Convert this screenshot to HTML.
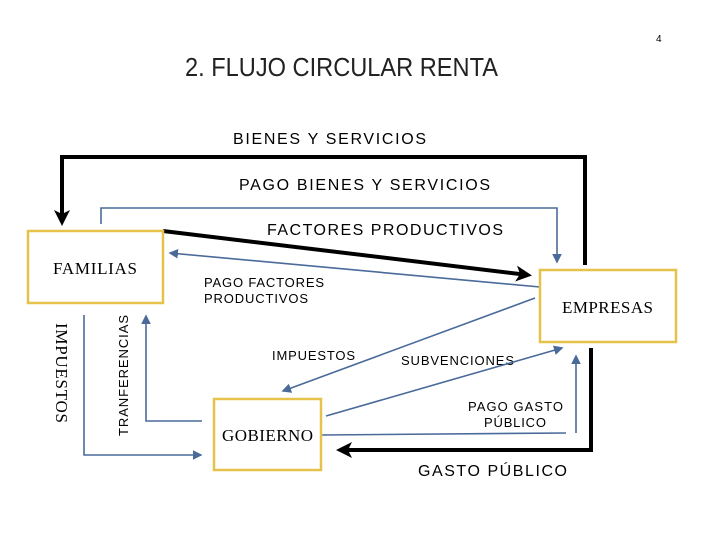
<!DOCTYPE html>
<html><head><meta charset="utf-8"><style>
body{margin:0;width:720px;height:540px;background:#fff;overflow:hidden;font-family:"Liberation Sans",sans-serif}
</style></head><body>
<svg width="720" height="540" xmlns="http://www.w3.org/2000/svg">
<defs>
<marker id="b" markerWidth="6" markerHeight="6" refX="5" refY="3" orient="auto" markerUnits="strokeWidth"><path d="M0,0 L6,3 L0,6 Z" fill="#4a6a9a"/></marker>
<marker id="k" markerWidth="4" markerHeight="4" refX="3" refY="2" orient="auto" markerUnits="strokeWidth"><path d="M0,0 L4,2 L0,4 L1,2 Z" fill="#000"/></marker>
</defs>
<text x="656" y="42" font-size="10">4</text>
<text x="185" y="76" font-size="26" textLength="313" lengthAdjust="spacingAndGlyphs" fill="#222">2. FLUJO CIRCULAR RENTA</text>
<text x="233" y="144" font-size="16" textLength="193">BIENES Y SERVICIOS</text>
<text x="239" y="190" font-size="16" textLength="251">PAGO BIENES Y SERVICIOS</text>
<text x="267" y="235" font-size="16" textLength="236">FACTORES PRODUCTIVOS</text>
<text x="204" y="287" font-size="13" textLength="120">PAGO FACTORES</text>
<text x="204" y="303" font-size="13" textLength="104">PRODUCTIVOS</text>
<text x="272" y="360" font-size="13" textLength="83">IMPUESTOS</text>
<text x="401" y="365" font-size="13" textLength="113">SUBVENCIONES</text>
<text x="468" y="411" font-size="13" textLength="95">PAGO GASTO</text>
<text x="484" y="427" font-size="13" textLength="62">PÚBLICO</text>
<text x="418" y="476" font-size="16" textLength="149">GASTO PÚBLICO</text>
<!-- black lines -->
<g stroke="#000" stroke-width="4" fill="none">
<path d="M585,265 V157 H62 V222" marker-end="url(#k)"/>
<path d="M163,231 L528,275" marker-end="url(#k)"/>
<path d="M591,348 V450 H340" marker-end="url(#k)"/>
</g>
<!-- blue lines -->
<g stroke="#4a6a9a" stroke-width="1.6" fill="none">
<path d="M101,224 V208 H557 V262" marker-end="url(#b)"/>
<path d="M540,287 L170,253" marker-end="url(#b)"/>
<path d="M535,298 L283,391" marker-end="url(#b)"/>
<path d="M326,416 L562,348" marker-end="url(#b)"/>
<path d="M321,435 L566,433"/>
<path d="M576,433 V356" marker-end="url(#b)"/>
<path d="M84,315 V455 H201" marker-end="url(#b)"/>
<path d="M202,421 H146 V316" marker-end="url(#b)"/>
</g>
<!-- boxes -->
<g fill="#fff" stroke="#e6c24a" stroke-width="2.5">
<rect x="28" y="231" width="135" height="72"/>
<rect x="540" y="270" width="136" height="72"/>
<rect x="214" y="399" width="107" height="71"/>
</g>
<g font-family="Liberation Serif,serif" font-size="17">
<text x="53" y="274" textLength="84">FAMILIAS</text>
<text x="562" y="313" textLength="91">EMPRESAS</text>
<text x="222" y="441" textLength="91">GOBIERNO</text>
<text transform="translate(56,323) rotate(90)" font-size="17" textLength="100">IMPUESTOS</text>
</g>
<text transform="translate(128,436) rotate(-90)" font-size="13" textLength="121">TRANFERENCIAS</text>
</svg>
</body></html>
